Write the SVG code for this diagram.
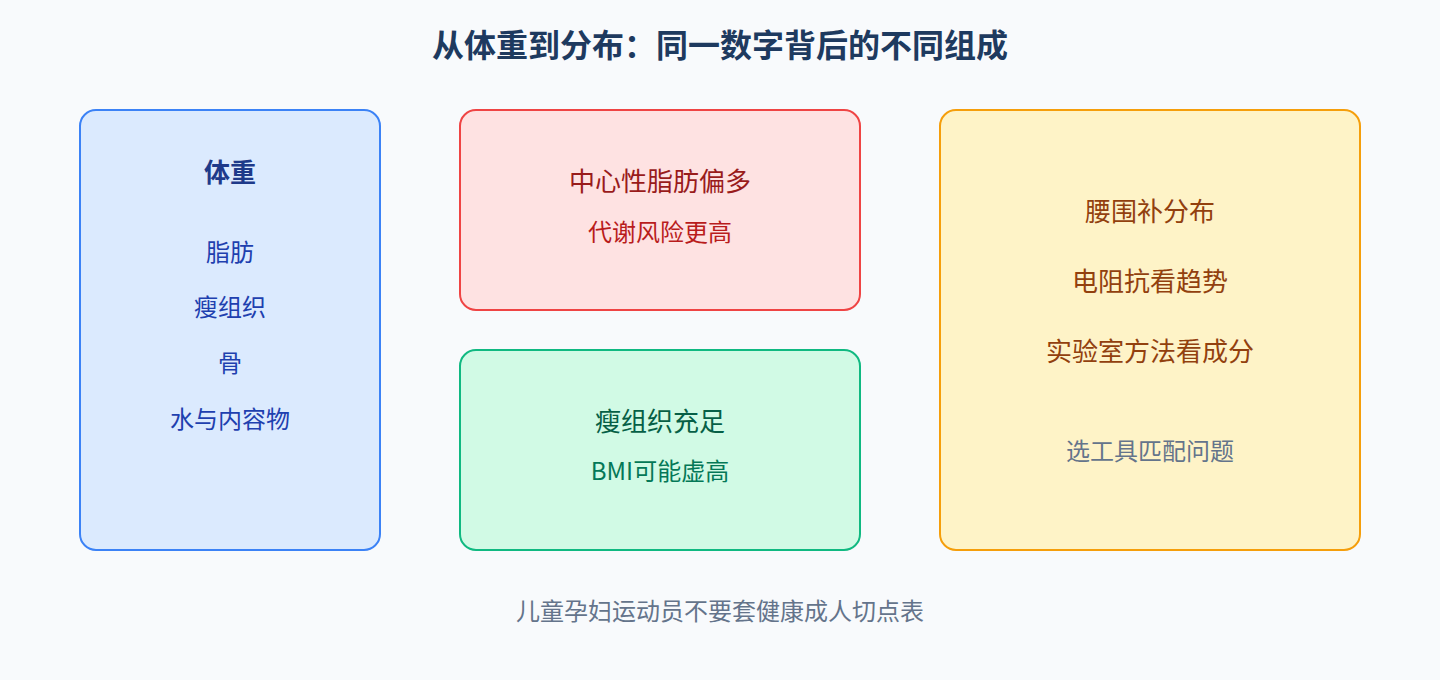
<svg xmlns="http://www.w3.org/2000/svg" width="1440" height="680" viewBox="0 0 1440 680">
<style>
text{font-family:"Noto Sans CJK SC","Noto Sans",sans-serif;text-anchor:middle}
.title{font-size:32px;font-weight:700;fill:#1e3a5f}
.box{stroke-width:2}
.t24{font-size:24px}
.t26{font-size:26px}
</style>
<rect x="0" y="0" width="1440" height="680" fill="#f8fafc"/>
<text class="title" x="720" y="57">从体重到分布：同一数字背后的不同组成</text>
<g id="weight">
<rect class="box" x="80" y="110" width="300" height="440" rx="16" fill="#dbeafe" stroke="#3b82f6"/>
<text class="t26" x="230" y="182" font-weight="700" fill="#1e3a8a">体重</text>
<text class="t24" x="230" y="261" fill="#1e40af">脂肪</text>
<text class="t24" x="230" y="316" fill="#1e40af">瘦组织</text>
<text class="t24" x="230" y="372" fill="#1e40af">骨</text>
<text class="t24" x="230" y="428" fill="#1e40af">水与内容物</text>
</g>
<g id="central-fat">
<rect class="box" x="460" y="110" width="400" height="200" rx="16" fill="#fee2e2" stroke="#ef4444"/>
<text class="t26" x="660" y="191" fill="#991b1b">中心性脂肪偏多</text>
<text class="t24" x="660" y="241" fill="#b91c1c">代谢风险更高</text>
</g>
<g id="lean-mass">
<rect class="box" x="460" y="350" width="400" height="200" rx="16" fill="#d1fae5" stroke="#10b981"/>
<text class="t26" x="660" y="431" fill="#065f46">瘦组织充足</text>
<text class="t24" x="660" y="480" fill="#047857">BMI可能虚高</text>
</g>
<g id="tools">
<rect class="box" x="940" y="110" width="420" height="440" rx="16" fill="#fef3c7" stroke="#f59e0b"/>
<text class="t26" x="1150" y="221" fill="#92400e">腰围补分布</text>
<text class="t26" x="1150" y="291" fill="#92400e">电阻抗看趋势</text>
<text class="t26" x="1150" y="361" fill="#92400e">实验室方法看成分</text>
<text class="t24" x="1150" y="460" fill="#64748b">选工具匹配问题</text>
</g>
<g id="connectors"/>
<text class="t24" x="720" y="620" fill="#64748b">儿童孕妇运动员不要套健康成人切点表</text>
</svg>
